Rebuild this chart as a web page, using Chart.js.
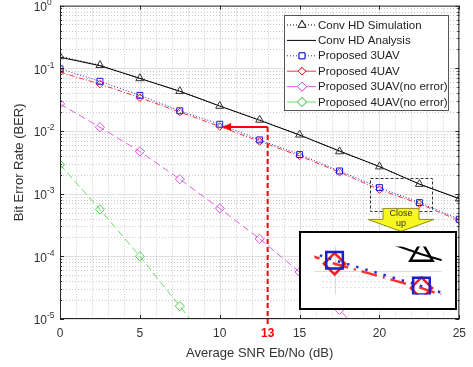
<!DOCTYPE html>
<html>
<head>
<meta charset="utf-8">
<script src="https://cdn.jsdelivr.net/npm/chart.js@4.4.0/dist/chart.umd.min.js"></script>
<style>
  html, body { margin: 0; padding: 0; background: #fff; }
  #wrap { position: relative; width: 473px; height: 367px; }
  #main { position: absolute; left: 0; top: 0; }
  #inset { position: absolute; left: 299px; top: 231px; }
</style>
</head>
<body>
<div id="wrap">
  <canvas id="main" width="473" height="367"></canvas>
  <canvas id="inset" width="158" height="79"></canvas>
</div>
<script>
// BER curves
const snr = [0, 2.5, 5, 7.5, 10, 12.5, 15, 17.5, 20, 22.5, 25];
const convSim = [0.155, 0.112, 0.069, 0.043, 0.025, 0.015, 0.0087, 0.0047, 0.0027, 0.00142, 0.00083];
const convAna = [0.15, 0.11, 0.069, 0.043, 0.025, 0.0148, 0.0086, 0.0048, 0.0027, 0.00142, 0.00083];
const prop3 = [0.098, 0.062, 0.037, 0.021, 0.0128, 0.0072, 0.0042, 0.0023, 0.00125, 0.00072, 0.00039];
const prop4 = [0.087, 0.056, 0.034, 0.020, 0.0118, 0.0068, 0.0040, 0.0022, 0.00116, 0.00069, 0.00037];
const prop3ne = [0.027, 0.0115, 0.0047, 0.0017, 0.00058, 0.00019, 0.000056, 0.000014, 0.000003];
const prop4ne = [0.0029, 0.00056, 0.0001, 0.000016, 0.0000025];

const legendNames = ['Conv HD Simulation', 'Conv HD Analysis', 'Proposed 3UAV',
  'Proposed 4UAV', 'Proposed 3UAV(no error)', 'Proposed 4UAV(no error)'];
const xLabels = [0, 5, 10, 13, 15, 20, 25];
const yDecades = [0, -1, -2, -3, -4, -5];
const markSnr = 13;      // red marker line
const markBer = 0.0116;
const zoomBox = { x0: 19.4, x1: 23.3, y0: 0.0018, y1: 0.00054 };
const insetGridY = [0.0007, 0.0008, 0.0009];

const FONT = '"Liberation Sans", Arial, sans-serif';
const pts = vals => vals.map((v, i) => ({ x: snr[i], y: v }));

function makeSets(big) {
  const k = big ? 2.8 : 1;
  const w = big ? 2.5 : 1;
  const clear = 'rgba(0,0,0,0)';
  return [
    { data: pts(convSim), borderColor: '#000', borderWidth: 1, borderDash: [1, 2], showLine: !big,
      pointStyle: 'triangle', pointRadius: 4.6 * k, pointBorderColor: big ? '#000' : '#333',
      pointBackgroundColor: clear, pointBorderWidth: w },
    { data: pts(convAna), borderColor: '#000', borderWidth: big ? 2 : 1, pointRadius: 0 },
    { data: pts(prop3), borderColor: '#2a2ad8', borderWidth: w, borderDash: big ? [2.5, 7] : [1, 2],
      pointStyle: 'rect', pointRadius: 4.2 * k, pointBorderColor: '#1c1cd0',
      pointBackgroundColor: clear, pointBorderWidth: w },
    { data: pts(prop4), borderColor: '#ff3030', borderWidth: w, borderDash: big ? [16, 6, 2, 6] : [5, 2, 1, 2],
      pointStyle: 'rectRot', pointRadius: 3.8 * k, pointBorderColor: '#f02020',
      pointBackgroundColor: clear, pointBorderWidth: w },
    { data: pts(prop3ne), borderColor: '#e060e0', borderWidth: 1, borderDash: [7, 4],
      pointStyle: 'rectRot', pointRadius: 4.6, pointBorderColor: '#dd55dd',
      pointBackgroundColor: clear, pointBorderWidth: 1 },
    { data: pts(prop4ne), borderColor: '#60dd60', borderWidth: 1, borderDash: [7, 4],
      pointStyle: 'rectRot', pointRadius: 4.6, pointBorderColor: '#50d050',
      pointBackgroundColor: clear, pointBorderWidth: 1 }
  ];
}

function seg(ctx, x0, y0, x1, y1) {
  ctx.beginPath(); ctx.moveTo(x0, y0); ctx.lineTo(x1, y1); ctx.stroke();
}
const isMajor = v => Math.abs(Math.log10(v) - Math.round(Math.log10(v))) < 1e-9;

const framePlugin = {
  id: 'frame',
  beforeDatasetsDraw(chart) {
    const { ctx, chartArea: a, scales: { x, y } } = chart;
    ctx.save();
    ctx.lineWidth = 1;
    x.ticks.forEach(t => {
      const px = Math.round(x.getPixelForValue(t.value)) + 0.5;
      if (t.value % 5 === 0) { ctx.setLineDash([]); ctx.strokeStyle = '#e0e0e0'; }
      else { ctx.setLineDash([1, 2]); ctx.strokeStyle = '#c8c8c8'; }
      seg(ctx, px, a.top, px, a.bottom);
    });
    y.ticks.forEach(t => {
      const py = Math.round(y.getPixelForValue(t.value)) + 0.5;
      if (isMajor(t.value)) { ctx.setLineDash([]); ctx.strokeStyle = '#e0e0e0'; }
      else { ctx.setLineDash([1, 2]); ctx.strokeStyle = '#c8c8c8'; }
      seg(ctx, a.left, py, a.right, py);
    });
    ctx.restore();
  },
  afterDraw(chart) {
    const { ctx, chartArea: a, scales: { x, y } } = chart;
    ctx.save();
    // axes box and inward ticks
    ctx.strokeStyle = '#262626';
    ctx.lineWidth = 1;
    ctx.strokeRect(a.left + 0.5, a.top + 0.5, a.right - a.left - 1, a.bottom - a.top - 1);
    x.ticks.forEach(t => {
      if (t.value % 5 !== 0) return;
      const px = Math.round(x.getPixelForValue(t.value)) + 0.5;
      seg(ctx, px, a.bottom, px, a.bottom - 4);
      seg(ctx, px, a.top, px, a.top + 4);
    });
    y.ticks.forEach(t => {
      const py = Math.round(y.getPixelForValue(t.value)) + 0.5;
      const len = isMajor(t.value) ? 4 : 2;
      seg(ctx, a.left, py, a.left + len, py);
      seg(ctx, a.right, py, a.right - len, py);
    });
    // y tick labels as 10 with superscript exponent
    ctx.fillStyle = '#333';
    yDecades.forEach(e => {
      const py = y.getPixelForValue(Math.pow(10, e));
      ctx.font = '12px ' + FONT;
      ctx.textAlign = 'right';
      ctx.textBaseline = 'middle';
      ctx.fillText('10', 47, py + 2);
      ctx.font = '8.5px ' + FONT;
      ctx.textAlign = 'left';
      ctx.fillText(String(e), 47, py - 3);
    });

    // red marker: arrow to 10 dB and dashed drop to 13 dB
    const mx = x.getPixelForValue(markSnr);
    const my = y.getPixelForValue(markBer);
    const tip = x.getPixelForValue(10.15);
    ctx.strokeStyle = '#ff0000';
    ctx.fillStyle = '#ff0000';
    ctx.lineWidth = 2;
    seg(ctx, mx, my, tip + 7, my);
    ctx.beginPath();
    ctx.moveTo(tip, my); ctx.lineTo(tip + 9, my - 4); ctx.lineTo(tip + 9, my + 4);
    ctx.closePath(); ctx.fill();
    ctx.setLineDash([5, 3]);
    seg(ctx, mx, my, mx, a.bottom + 7);
    ctx.setLineDash([]);

    // dashed close-up region
    const bx0 = x.getPixelForValue(zoomBox.x0), bx1 = x.getPixelForValue(zoomBox.x1);
    const by0 = y.getPixelForValue(zoomBox.y0), by1 = y.getPixelForValue(zoomBox.y1);
    ctx.strokeStyle = '#333';
    ctx.lineWidth = 1;
    ctx.setLineDash([3, 2]);
    ctx.strokeRect(Math.round(bx0) + 0.5, Math.round(by0) + 0.5, Math.round(bx1 - bx0), Math.round(by1 - by0));
    ctx.setLineDash([]);

    // yellow "Close up" arrow
    const cx = (bx0 + bx1) / 2;
    const ay = by1 - 2;
    ctx.beginPath();
    ctx.moveTo(cx - 18, ay); ctx.lineTo(cx + 18, ay); ctx.lineTo(cx + 18, ay + 11);
    ctx.lineTo(cx + 33, ay + 11); ctx.lineTo(cx, ay + 23); ctx.lineTo(cx - 33, ay + 11);
    ctx.lineTo(cx - 18, ay + 11); ctx.closePath();
    ctx.fillStyle = '#f8f820';
    ctx.fill();
    ctx.strokeStyle = '#8c8c20';
    ctx.stroke();
    ctx.fillStyle = '#333';
    ctx.font = '9px ' + FONT;
    ctx.textAlign = 'center';
    ctx.textBaseline = 'middle';
    ctx.fillText('Close', cx, ay + 5);
    ctx.fillText('up', cx, ay + 15);

    // legend
    const lx = 284, ly = 15, lw = 164, lh = 95;
    ctx.fillStyle = '#fff';
    ctx.fillRect(lx, ly, lw, lh);
    ctx.strokeStyle = '#555';
    ctx.strokeRect(lx + 0.5, ly + 0.5, lw, lh);
    chart.data.datasets.forEach((ds, i) => {
      const ry = ly + 10 + i * 15.4;
      ctx.strokeStyle = ds.borderColor;
      ctx.lineWidth = 1;
      ctx.setLineDash(i >= 3 ? [] : (ds.borderDash || []));
      seg(ctx, lx + 3, ry, lx + 32, ry);
      ctx.setLineDash([]);
      if (ds.pointRadius > 0) {
        Chart.helpers.drawPoint(ctx, {
          pointStyle: ds.pointStyle, radius: ds.pointRadius, borderWidth: 1
        }, lx + 18, ry);
        ctx.fillStyle = '#fff';
        ctx.strokeStyle = ds.pointBorderColor;
        ctx.lineWidth = 1;
        Chart.helpers.drawPoint(ctx, { pointStyle: ds.pointStyle, radius: ds.pointRadius, borderWidth: 1 }, lx + 18, ry);
      }
      ctx.fillStyle = '#222';
      ctx.font = '11.5px ' + FONT;
      ctx.textAlign = 'left';
      ctx.textBaseline = 'middle';
      ctx.fillText(legendNames[i], lx + 34, ry + 0.5);
    });
    ctx.restore();
  }
};

new Chart(document.getElementById('main'), {
  type: 'line',
  data: { datasets: makeSets(false) },
  options: {
    responsive: false,
    animation: false,
    layout: { padding: { top: 5, right: 12, left: 0, bottom: 0 } },
    plugins: { legend: { display: false }, tooltip: { enabled: false } },
    scales: {
      x: {
        type: 'linear', min: 0, max: 25,
        grid: { display: false, drawTicks: false },
        border: { display: false },
        ticks: {
          stepSize: 1, autoSkip: false, maxRotation: 0, padding: 7,
          callback: v => xLabels.includes(v) ? String(v) : '',
          color: c => (c.tick && c.tick.value === markSnr) ? '#ff0000' : '#333',
          font: c => ({ family: FONT, size: 12, weight: (c.tick && c.tick.value === markSnr) ? 'bold' : 'normal' })
        },
        title: { display: true, text: 'Average SNR Eb/No (dB)', color: '#333',
          font: { family: FONT, size: 13 }, padding: { top: 6, bottom: 6 } },
        afterFit: s => { s.height = 48; }
      },
      y: {
        type: 'logarithmic', min: 1e-5, max: 1,
        afterBuildTicks: s => {
          const t = [];
          for (let e = -5; e <= 0; e++) {
            for (let m = 1; m <= 9; m++) {
              const v = m * Math.pow(10, e);
              if (v <= 1 + 1e-12) t.push({ value: v });
            }
          }
          s.ticks = t;
        },
        grid: { display: false, drawTicks: false },
        border: { display: false },
        ticks: { display: false },
        title: { display: true, text: 'Bit Error Rate (BER)', color: '#333',
          font: { family: FONT, size: 13 }, padding: { top: 12, bottom: 0 } },
        afterFit: s => { s.width = 60; }
      }
    }
  },
  plugins: [framePlugin]
});

// magnified view of the close-up region
const insetPlugin = {
  id: 'insetFrame',
  beforeDraw(chart) {
    chart.ctx.fillStyle = '#fff';
    chart.ctx.fillRect(0, 0, chart.width, chart.height);
  },
  beforeDatasetsDraw(chart) {
    const { ctx, chartArea: a, scales: { x, y } } = chart;
    ctx.save();
    ctx.lineWidth = 1;
    ctx.strokeStyle = '#dcdcdc';
    const gx = Math.round(x.getPixelForValue(20)) + 0.5;
    seg(ctx, gx, a.top, gx, a.bottom);
    const gy = Math.round(y.getPixelForValue(0.001)) + 0.5;
    seg(ctx, a.left, gy, a.right, gy);
    ctx.setLineDash([1, 3]);
    ctx.strokeStyle = '#c4c4c4';
    insetGridY.forEach(v => {
      const py = Math.round(y.getPixelForValue(v)) + 0.5;
      seg(ctx, a.left + 8, py, a.right - 16, py);
    });
    ctx.restore();
  },
  afterDraw(chart) {
    const ctx = chart.ctx;
    ctx.save();
    ctx.strokeStyle = '#000';
    ctx.lineWidth = 2;
    ctx.strokeRect(1, 1, chart.width - 2, chart.height - 2);
    ctx.restore();
  }
};

new Chart(document.getElementById('inset'), {
  type: 'line',
  data: { datasets: makeSets(true) },
  options: {
    responsive: false,
    animation: false,
    layout: { padding: 0 },
    plugins: { legend: { display: false }, tooltip: { enabled: false } },
    scales: {
      x: { type: 'linear', min: 19.42, max: 23.08, display: false },
      y: { type: 'logarithmic', min: 0.000635, max: 0.00168, display: false }
    }
  },
  plugins: [insetPlugin]
});
</script>
</body>
</html>
